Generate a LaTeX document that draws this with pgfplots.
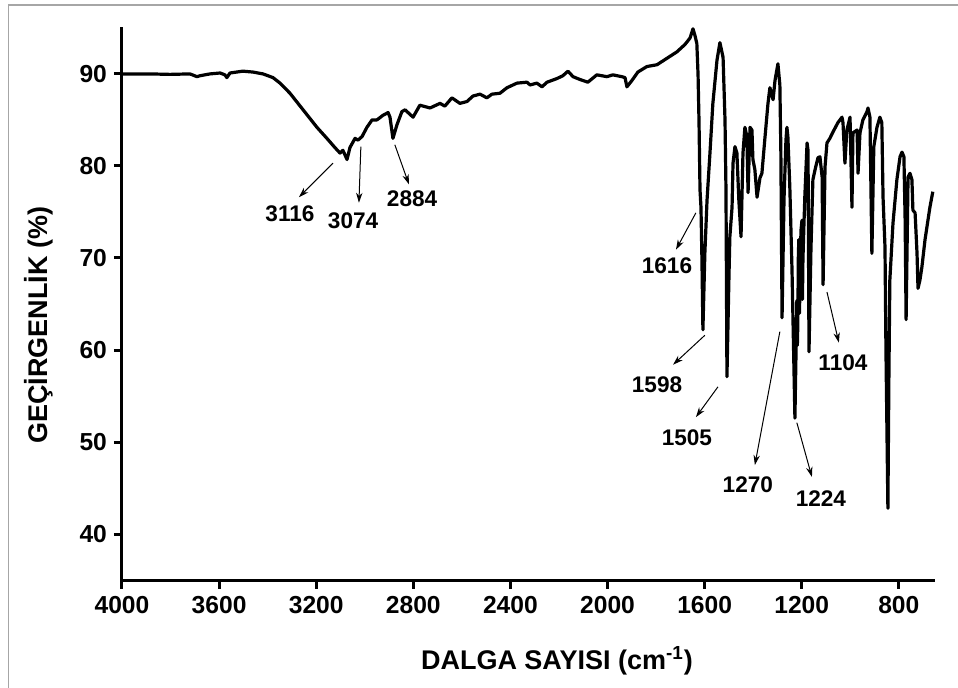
\documentclass[border=0pt]{standalone}
\usepackage{fontspec}
\setmainfont{Liberation Sans}
\usepackage{pgfplots}
\pgfplotsset{compat=1.18}
\usetikzlibrary{arrows.meta}

\begin{document}
\begin{tikzpicture}
\useasboundingbox (0,0) rectangle (479pt,344pt);
\draw[gray!70, line width=0.6pt] (4.2pt,0) -- (4.2pt,341.5pt) -- (479pt,341.5pt);
\begin{axis}[
 at={(61pt,53.5pt)}, anchor=south west,
 scale only axis, width=406.5pt, height=277pt,
 xmin=651, xmax=4000, ymin=34.9, ymax=95.1, x dir=reverse,
 axis x line*=bottom, axis y line*=left,
 axis line style={line width=1.5pt},
 xtick={800,1200,...,4000}, ytick={40,50,...,90},
 tick align=outside, major tick length=4pt,
 tick style={line width=1.5pt,black},
 /pgf/number format/1000 sep={},
 /pgf/number format/assume math mode=true,
 ticklabel style={font=\bfseries\fontsize{12.3}{14}\selectfont},
 xlabel={DALGA SAYISI (cm\textsuperscript{-1})},
 ylabel={GEÇİRGENLİK (\%)},
 label style={font=\bfseries\fontsize{13.5}{16}\selectfont},
 xlabel style={at={(axis description cs:0.535,-0.144)}, anchor=center},
 ylabel style={at={(axis description cs:-0.103,0.462)}, anchor=center},
 clip=false,
]
\addplot[black, line width=1.6pt, line join=round] table {
x y
4000 90.0
3885 90.0
3802 89.95
3720 90.0
3691 89.7
3679 89.8
3638 90.0
3596 90.1
3576 89.9
3568 89.6
3555 90.1
3502 90.3
3460 90.2
3419 90.0
3378 89.6
3349 89.0
3308 87.9
3254 86.1
3197 84.2
3156 83.0
3123 82.0
3102 81.4
3090 81.7
3073 80.7
3061 82.0
3040 83.0
3028 82.8
3011 83.2
2991 84.2
2970 85.0
2950 85.0
2925 85.5
2904 85.8
2896 85.3
2884 83.0
2867 84.5
2847 85.9
2834 86.1
2801 85.3
2773 86.6
2731 86.3
2690 86.8
2670 86.5
2641 87.4
2608 86.8
2579 87.0
2554 87.6
2525 87.8
2497 87.4
2476 87.8
2443 87.9
2414 88.5
2373 89.0
2332 89.1
2319 88.8
2291 89.0
2270 88.6
2249 89.1
2208 89.5
2184 89.8
2163 90.3
2142 89.7
2114 89.4
2081 89.1
2044 89.9
2002 89.7
1978 89.9
1941 89.7
1928 89.6
1920 88.6
1899 89.3
1875 90.2
1838 90.8
1796 91.0
1755 91.7
1714 92.4
1681 93.2
1660 93.9
1648 94.9
1640 94.2
1632 93.3
1627 89.9
1623 84.7
1619 77.4
1615 75.5
1611 69.8
1607 62.2
1599 70.5
1590 76.3
1578 81.4
1566 86.8
1549 91.5
1537 93.4
1524 91.8
1516 85.0
1512 77.4
1508 57.1
1500 67.6
1496 72.3
1487 75.5
1483 80.3
1475 82.1
1467 81.4
1459 76.3
1450 72.3
1442 81.4
1434 84.2
1426 83.2
1421 77.1
1413 84.2
1405 83.9
1401 80.7
1393 79.6
1384 76.6
1372 78.7
1364 79.2
1351 83.2
1339 86.8
1331 88.5
1318 87.2
1310 89.3
1298 91.1
1290 88.8
1286 81.7
1281 63.5
1273 76.3
1265 82.8
1261 84.2
1257 83.2
1249 77.7
1240 68.7
1228 52.6
1222 62.0
1220 65.4
1218 60.5
1216 62.9
1214 70.0
1212 72.0
1209 64.0
1207 68.7
1203 73.0
1199 74.1
1197 65.5
1195 69.8
1191 73.5
1187 76.8
1178 82.5
1174 81.7
1170 59.8
1162 70.9
1154 78.5
1145 79.6
1133 80.9
1125 81.0
1116 78.8
1112 67.1
1104 79.9
1096 82.5
1084 83.0
1071 83.7
1051 84.7
1034 85.3
1030 84.7
1022 80.3
1014 83.9
1001 85.3
993 75.5
989 83.6
972 83.9
968 79.2
960 83.6
948 85.0
931 85.9
927 86.3
919 85.3
911 70.5
903 82.1
890 84.2
878 85.3
870 84.7
865 76.6
857 71.2
853 60.0
845 42.8
841 56.7
837 67.6
824 73.8
808 78.5
795 81.0
787 81.5
779 81.0
774 74.1
770 63.3
762 78.8
754 79.2
746 78.5
742 75.2
733 74.9
725 70.5
721 66.7
713 67.6
705 69.0
692 72.0
672 75.5
660 77.2
};
\tikzset{ann/.style={-{Stealth[length=5pt,width=3.2pt]}, line width=0.5pt},
         lab/.style={font=\bfseries\fontsize{11.3}{13}\selectfont}}
\draw[ann] (axis cs:3131,80.3) -- (axis cs:3271,76.6);
\node[lab] at (axis cs:3308,74.8) {3116};
\draw[ann] (axis cs:3016,82.1) -- (axis cs:3024,76.0);
\node[lab] at (axis cs:3048,74.0) {3074};
\draw[ann] (axis cs:2876,82.3) -- (axis cs:2818,78.0);
\node[lab] at (axis cs:2805,76.4) {2884};
\draw[ann] (axis cs:1636,74.9) -- (axis cs:1718,70.9);
\node[lab] at (axis cs:1755,69.2) {1616};
\draw[ann] (axis cs:1599,61.6) -- (axis cs:1730,58.4);
\node[lab] at (axis cs:1796,56.2) {1598};
\draw[ann] (axis cs:1545,56.0) -- (axis cs:1636,52.7);
\node[lab] at (axis cs:1673,50.5) {1505};
\draw[ann] (axis cs:1290,62.0) -- (axis cs:1393,47.5);
\node[lab] at (axis cs:1422,45.4) {1270};
\draw[ann] (axis cs:1220,52.1) -- (axis cs:1158,46.2);
\node[lab] at (axis cs:1121,43.9) {1224};
\draw[ann] (axis cs:1096,66.3) -- (axis cs:1047,60.8);
\node[lab] at (axis cs:1030,58.6) {1104};
\end{axis}
\end{tikzpicture}
\end{document}
